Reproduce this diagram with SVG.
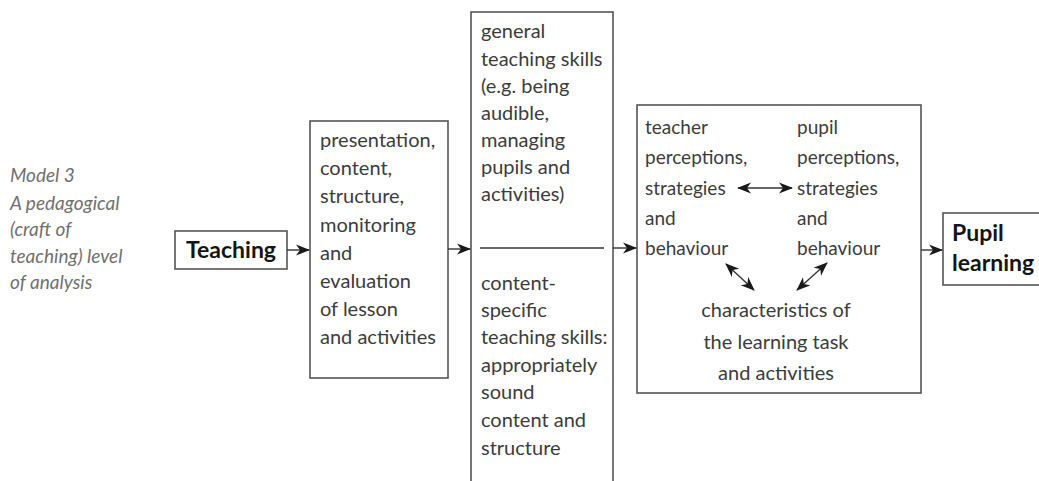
<svg xmlns="http://www.w3.org/2000/svg" width="1039" height="481" viewBox="0 0 1039 481">
  <style>
    .box { fill: #ffffff; stroke: #555555; stroke-width: 1.6; }
    .txt { font-family: Lato, "Open Sans", sans-serif; font-size: 20px; fill: #3c3c3c; }
    .sm { font-size: 19px; }
    .cap { font-family: Lato, "Open Sans", sans-serif; font-size: 19px; font-style: italic; fill: #707070; }
    .bold { font-family: Lato, "Open Sans", sans-serif; font-size: 23px; font-weight: bold; fill: #151515; }
    .conn { stroke: #333333; stroke-width: 1.4; fill: none; }
  </style>
  <defs>
    <marker id="head" viewBox="0 0 14 12" refX="13" refY="6" markerWidth="14" markerHeight="12" markerUnits="userSpaceOnUse" orient="auto-start-reverse">
      <path d="M0,0.5 L14,6 L0,11.5 L4,6 Z" fill="#1a1a1a"/>
    </marker>
  </defs>
  <rect width="1039" height="481" fill="#ffffff"/>

  <g id="caption">
    <text class="cap" x="10" y="182">Model 3</text>
    <text class="cap" x="10" y="210">A pedagogical</text>
    <text class="cap" x="10" y="236">(craft of</text>
    <text class="cap" x="10" y="263">teaching) level</text>
    <text class="cap" x="10" y="289">of analysis</text>
  </g>

  <g id="teaching">
    <rect class="box" x="175" y="231" width="112" height="38"/>
    <text class="bold" x="231" y="258" text-anchor="middle">Teaching</text>
  </g>

  <g id="lesson">
    <rect class="box" x="310" y="121" width="138" height="257"/>
    <text class="txt" x="320" y="147">presentation,</text>
    <text class="txt" x="320" y="175">content,</text>
    <text class="txt" x="320" y="203">structure,</text>
    <text class="txt" x="320" y="232">monitoring</text>
    <text class="txt" x="320" y="260">and</text>
    <text class="txt" x="320" y="288">evaluation</text>
    <text class="txt" x="320" y="316">of lesson</text>
    <text class="txt" x="320" y="344">and activities</text>
  </g>

  <g id="skills">
    <rect class="box" x="471" y="12" width="142" height="480"/>
    <line x1="480" y1="248" x2="604" y2="248" stroke="#333333" stroke-width="1.4"/>
    <text class="txt" x="481" y="38">general</text>
    <text class="txt" x="481" y="66">teaching skills</text>
    <text class="txt" x="481" y="93">(e.g. being</text>
    <text class="txt" x="481" y="120">audible,</text>
    <text class="txt" x="481" y="147">managing</text>
    <text class="txt" x="481" y="174">pupils and</text>
    <text class="txt" x="481" y="201">activities)</text>
    <text class="txt" x="481" y="290">content-</text>
    <text class="txt" x="481" y="317">specific</text>
    <text class="txt" x="481" y="344">teaching skills:</text>
    <text class="txt" x="481" y="372">appropriately</text>
    <text class="txt" x="481" y="399">sound</text>
    <text class="txt" x="481" y="427">content and</text>
    <text class="txt" x="481" y="455">structure</text>
  </g>

  <g id="interaction">
    <rect class="box" x="637" y="105" width="284" height="288"/>
    <text class="txt sm" x="645" y="134">teacher</text>
    <text class="txt sm" x="645" y="164">perceptions,</text>
    <text class="txt sm" x="645" y="195">strategies</text>
    <text class="txt sm" x="645" y="225">and</text>
    <text class="txt sm" x="645" y="255">behaviour</text>
    <text class="txt sm" x="797" y="134">pupil</text>
    <text class="txt sm" x="797" y="164">perceptions,</text>
    <text class="txt sm" x="797" y="195">strategies</text>
    <text class="txt sm" x="797" y="225">and</text>
    <text class="txt sm" x="797" y="255">behaviour</text>
    <text class="txt" x="776" y="317" text-anchor="middle">characteristics of</text>
    <text class="txt" x="776" y="349" text-anchor="middle">the learning task</text>
    <text class="txt" x="776" y="380" text-anchor="middle">and activities</text>
  </g>

  <g id="pupil-learning">
    <rect class="box" x="943" y="213" width="110" height="72"/>
    <text class="bold" x="952" y="241">Pupil</text>
    <text class="bold" x="952" y="271">learning</text>
  </g>

  <g id="connectors">
    <line class="conn" x1="287" y1="250" x2="309" y2="250" marker-end="url(#head)"/>
    <line class="conn" x1="448" y1="249" x2="470" y2="249" marker-end="url(#head)"/>
    <line class="conn" x1="613" y1="248" x2="636" y2="248" marker-end="url(#head)"/>
    <line class="conn" x1="921" y1="250" x2="942" y2="250" marker-end="url(#head)"/>
    <line class="conn" x1="738" y1="188" x2="792" y2="188" marker-start="url(#head)" marker-end="url(#head)"/>
    <line class="conn" x1="726" y1="264" x2="754" y2="290" marker-start="url(#head)" marker-end="url(#head)"/>
    <line class="conn" x1="827" y1="263" x2="797" y2="290" marker-start="url(#head)" marker-end="url(#head)"/>
  </g>
</svg>
